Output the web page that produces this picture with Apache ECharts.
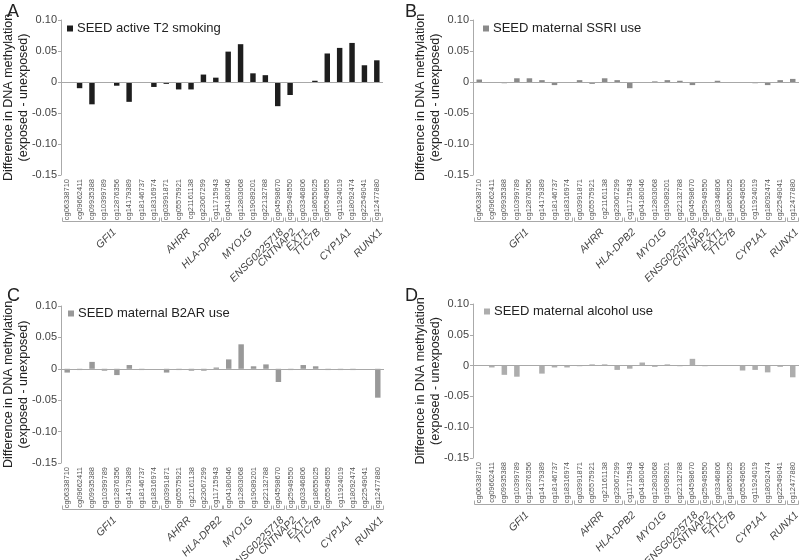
<!DOCTYPE html>
<html>
<head>
<meta charset="utf-8">
<style>
  html, body { margin: 0; padding: 0; background: #fff; }
  #main { width: 800px; height: 560px; }
</style>
<script src="https://cdn.jsdelivr.net/npm/echarts@6/dist/echarts.min.js"></script>
</head>
<body>
<div id="main"></div>
<script>
// CpG sites on the x axis
var cpgs = ['cg06338710', 'cg09662411', 'cg09935388', 'cg10399789', 'cg12876356', 'cg14179389', 'cg18146737', 'cg18316974',
    'cg03991871', 'cg05575921', 'cg21161138', 'cg23067299', 'cg11715943',
    'cg04180046', 'cg12803068', 'cg19089201', 'cg22132788', 'cg04598670', 'cg25949550',
    'cg03346806', 'cg18655025', 'cg05549655', 'cg11924019', 'cg18092474', 'cg22549041', 'cg12477880'];

// gene groups (first and last CpG index of each)
var genes = ['GFI1', 'AHRR', 'HLA-DPB2', 'MYO1G', 'ENSG0225718', 'CNTNAP2', 'EXT1', 'TTC7B', 'CYP1A1', 'RUNX1'];
var geneStart = [0, 8, 12, 13, 17, 18, 19, 20, 21, 25];
var geneEnd = [7, 11, 12, 16, 17, 18, 19, 20, 24, 25];

// difference in DNA methylation (exposed - unexposed)
var smoking = [0, -0.010, -0.036, 0, -0.006, -0.032, -0.001, -0.008, -0.003, -0.012, -0.012, 0.012, 0.007,
    0.049, 0.061, 0.014, 0.011, -0.039, -0.021, 0, 0.002, 0.046, 0.055, 0.063, 0.027, 0.035];
var ssri = [0.004, -0.001, -0.002, 0.006, 0.006, 0.003, -0.005, -0.001, 0.003, -0.003, 0.006, 0.003, -0.010,
    -0.001, 0.001, 0.003, 0.002, -0.005, -0.001, 0.002, 0, 0, -0.002, -0.005, 0.003, 0.005];
var b2ar = [-0.006, -0.002, 0.011, -0.003, -0.010, 0.006, -0.002, 0, -0.006, -0.002, -0.003, -0.003, 0.002,
    0.015, 0.039, 0.004, 0.007, -0.021, -0.002, 0.006, 0.004, -0.002, -0.002, -0.002, 0, -0.046];
var alcohol = [0, -0.003, -0.015, -0.018, 0, -0.013, -0.003, -0.003, -0.001, 0.002, 0.002, -0.007, -0.005,
    0.005, -0.002, 0.002, -0.001, 0.011, -0.001, 0.001, 0.001, -0.008, -0.007, -0.011, -0.002, -0.019];

var yMin = -0.15, yMax = 0.10, yStep = 0.05;

var panels = [
    { letter: 'A', name: 'SEED active T2 smoking', data: smoking, color: '#1e1e1e',
      grid: { left: 58, top: 20, width: 325, height: 155 }, legend: { left: 62, top: 17 }, title: { left: 2, top: -2 } },
    { letter: 'B', name: 'SEED maternal SSRI use', data: ssri, color: '#8a8a8a',
      grid: { left: 473, top: 20, width: 326, height: 155 }, legend: { left: 478, top: 17 }, title: { left: 400, top: -2 } },
    { letter: 'C', name: 'SEED maternal B2AR use', data: b2ar, color: '#999999',
      grid: { left: 59, top: 306, width: 325, height: 157 }, legend: { left: 63, top: 302 }, title: { left: 2, top: 282 } },
    { letter: 'D', name: 'SEED maternal alcohol use', data: alcohol, color: '#adadad',
      grid: { left: 473, top: 304, width: 326, height: 154 }, legend: { left: 479, top: 300 }, title: { left: 400, top: 282 } }
];

var fontFamily = '"Liberation Sans", Arial, sans-serif';

var bracketData = genes.map(function (g, i) {
    return [geneStart[i], geneEnd[i], yMin];
});

function renderBracket(params, api) {
    var p0 = api.coord([api.value(0), api.value(2)]);
    var p1 = api.coord([api.value(1), api.value(2)]);
    var w = api.size([1, 0])[0];
    var x0 = Math.round(p0[0] - w * 0.42) + 0.5;
    var x1 = Math.round(p1[0] + w * 0.42) + 0.5;
    var y = Math.round(p0[1] + 46) + 0.5;
    var cx = (p0[0] + p1[0]) / 2;
    var lineStyle = { stroke: '#a8a8a8', lineWidth: 1 };
    return {
        type: 'group',
        children: [
            { type: 'line', shape: { x1: x0, y1: y, x2: x1, y2: y }, style: lineStyle },
            { type: 'line', shape: { x1: x0, y1: y - 4, x2: x0, y2: y }, style: lineStyle },
            { type: 'line', shape: { x1: x1, y1: y - 4, x2: x1, y2: y }, style: lineStyle },
            {
                type: 'text',
                x: cx + 4,
                y: y + 9,
                rotation: Math.PI / 4,
                style: {
                    text: genes[params.dataIndex],
                    align: 'right',
                    verticalAlign: 'middle',
                    fontSize: 10.5,
                    fontStyle: 'italic',
                    fontFamily: fontFamily,
                    fill: '#444'
                }
            }
        ]
    };
}

var option = {
    animation: false,
    backgroundColor: '#fff',
    title: [],
    legend: [],
    grid: [],
    xAxis: [],
    yAxis: [],
    series: []
};

panels.forEach(function (p, i) {
    option.title.push({
        text: p.letter, left: p.title.left, top: p.title.top,
        textStyle: { fontSize: 18, fontWeight: 'normal', color: '#222', fontFamily: fontFamily }
    });
    option.legend.push({
        data: [p.name], left: p.legend.left, top: p.legend.top,
        itemWidth: 6, itemHeight: 6, itemGap: 4,
        icon: 'rect',
        textStyle: { fontSize: 13, color: '#222', fontFamily: fontFamily, padding: [0, 0, 0, -1] }
    });
    option.grid.push(p.grid);
    option.xAxis.push({
        type: 'category',
        gridIndex: i,
        data: cpgs,
        axisLine: { show: false, onZero: false },
        axisTick: { show: false },
        axisLabel: { interval: 0, rotate: 90, fontSize: 7.5, color: '#555', margin: 4, fontFamily: fontFamily }
    });
    option.yAxis.push({
        type: 'value',
        gridIndex: i,
        min: yMin, max: yMax, interval: yStep,
        name: 'Difference in DNA methylation\n(exposed - unexposed)',
        nameLocation: 'middle',
        nameGap: 30,
        nameMoveOverlap: false,
        nameTextStyle: { fontSize: 12.5, color: '#222', fontFamily: fontFamily, lineHeight: 15 },
        splitLine: { show: false },
        axisLine: { show: true, lineStyle: { color: '#aaa' } },
        axisTick: { show: true, length: 3, lineStyle: { color: '#aaa' } },
        axisLabel: {
            fontSize: 11, color: '#444', margin: 4, fontFamily: fontFamily,
            formatter: function (v) { return Math.abs(v) < 1e-9 ? '0' : v.toFixed(2); }
        }
    });
    option.series.push({
        name: p.name,
        type: 'bar',
        xAxisIndex: i, yAxisIndex: i,
        data: p.data,
        barWidth: '44%',
        itemStyle: { color: p.color },
        markLine: {
            silent: true,
            symbol: 'none',
            label: { show: false },
            lineStyle: { color: '#a8a8a8', type: 'solid', width: 1 },
            data: [{ yAxis: 0 }]
        }
    });
    option.series.push({
        type: 'custom',
        xAxisIndex: i, yAxisIndex: i,
        clip: false,
        silent: true,
        renderItem: renderBracket,
        encode: { x: [0, 1], y: 2 },
        data: bracketData
    });
});

var myChart = echarts.init(document.getElementById('main'), null, { renderer: 'canvas' });
myChart.setOption(option);
window.addEventListener('resize', myChart.resize);
</script>
</body>
</html>
